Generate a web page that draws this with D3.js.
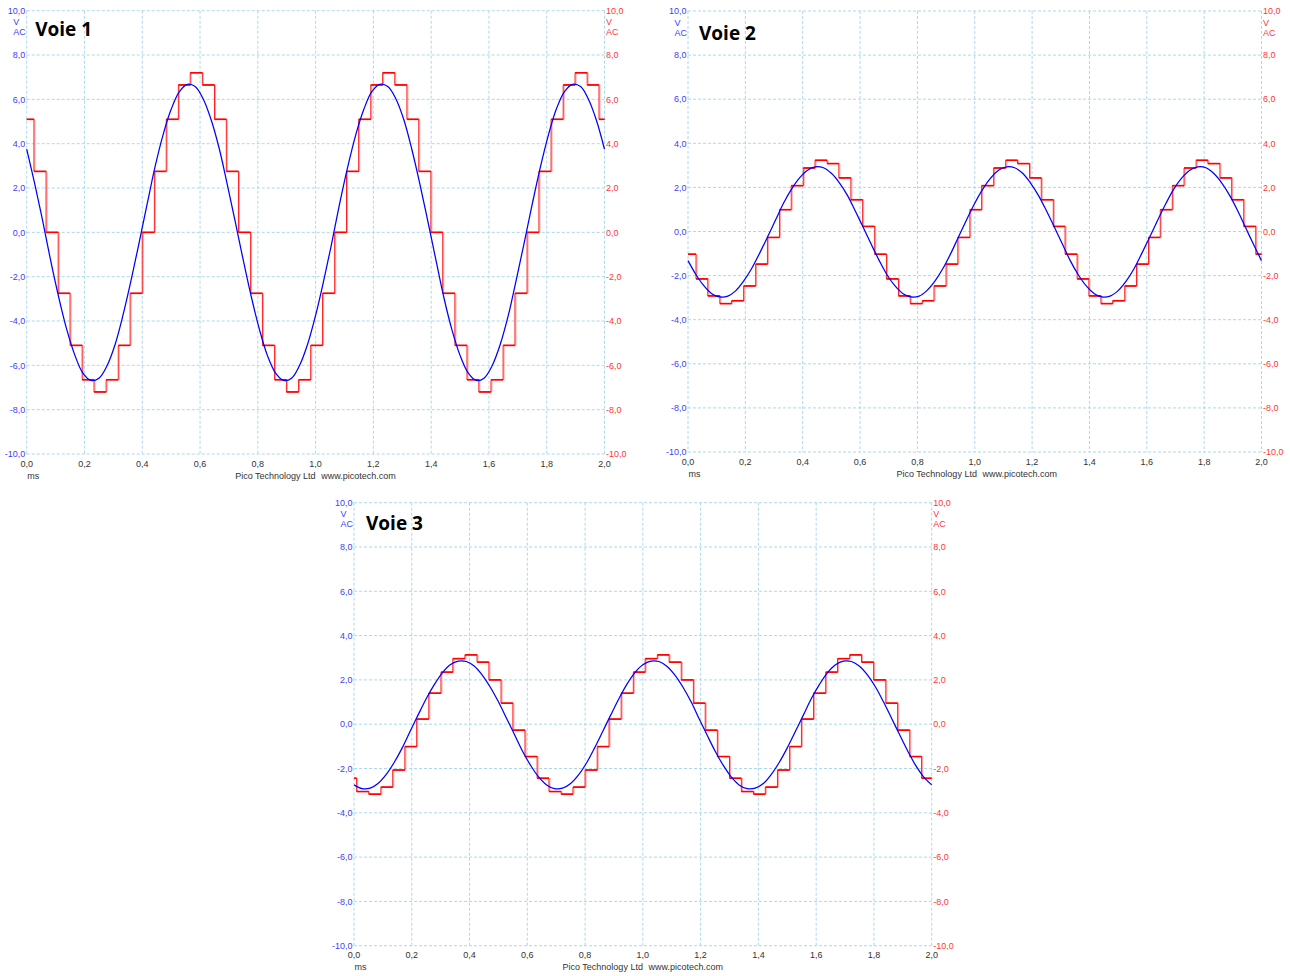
<!DOCTYPE html>
<html><head><meta charset="utf-8">
<script src="https://cdn.jsdelivr.net/npm/d3@7"></script>
<style>body{margin:0;background:#fff}svg{display:block}</style>
</head><body><svg id="c" width="1290" height="976"></svg>
<script>
// ---- data ----
const titles = ["Voie 1", "Voie 2", "Voie 3"];
const xTicks = [0, 0.2, 0.4, 0.6, 0.8, 1.0, 1.2, 1.4, 1.6, 1.8, 2.0];
const xTickLabels = ["0,0","0,2","0,4","0,6","0,8","1,0","1,2","1,4","1,6","1,8","2,0"];
const yTicks = [10, 8, 6, 4, 2, 0, -2, -4, -6, -8, -10];
const yTickLabels = ["10,0","8,0","6,0","4,0","2,0","0,0","-2,0","-4,0","-6,0","-8,0","-10,0"];
const xUnit = "ms";
const yUnit = ["V", "AC"];
const credit = ["Pico Technology Ltd", "www.picotech.com"];

// blue trace (filtered signal), time in ms
const blueTime = [0,0.028,0.056,0.083,0.111,0.139,0.167,0.194,0.222,0.25,0.278,0.306,0.333,0.361,0.389,0.417,0.444,0.472,0.5,0.528,0.556,0.583,0.611,0.639,0.667,0.694,0.722,0.75,0.778,0.806,0.833,0.861,0.889,0.917,0.944,0.972,1.0,1.028,1.056,1.083,1.111,1.139,1.167,1.194,1.222,1.25,1.278,1.306,1.333,1.361,1.389,1.417,1.444,1.472,1.5,1.528,1.556,1.583,1.611,1.639,1.667,1.694,1.722,1.75,1.778,1.806,1.833,1.861,1.889,1.917,1.944,1.972,2.0];
const blue1 = [3.75,2.18,0.47,-1.28,-2.94,-4.40,-5.55,-6.34,-6.68,-6.58,-6.02,-5.06,-3.75,-2.18,-0.47,1.28,2.94,4.40,5.55,6.34,6.68,6.58,6.02,5.06,
               3.75,2.18,0.47,-1.28,-2.94,-4.40,-5.55,-6.34,-6.68,-6.58,-6.02,-5.06,-3.75,-2.18,-0.47,1.28,2.94,4.40,5.55,6.34,6.68,6.58,6.02,5.06,
               3.75,2.18,0.47,-1.28,-2.94,-4.40,-5.55,-6.34,-6.68,-6.58,-6.02,-5.06,-3.75,-2.18,-0.47,1.28,2.94,4.40,5.55,6.34,6.68,6.58,6.02,5.06,3.75];
const blue2 = [-1.32,-1.96,-2.47,-2.82,-2.97,-2.93,-2.68,-2.25,-1.68,-0.98,-0.23,0.54,1.28,1.92,2.43,2.78,2.93,2.89,2.64,2.21,1.64,0.94,0.19,-0.58,
               -1.32,-1.96,-2.47,-2.82,-2.97,-2.93,-2.68,-2.25,-1.68,-0.98,-0.23,0.54,1.28,1.92,2.43,2.78,2.93,2.89,2.64,2.21,1.64,0.94,0.19,-0.58,
               -1.32,-1.96,-2.47,-2.82,-2.97,-2.93,-2.68,-2.25,-1.68,-0.98,-0.23,0.54,1.28,1.92,2.43,2.78,2.93,2.89,2.64,2.21,1.64,0.94,0.19,-0.58,-1.32];
const blue3 = [-2.74,-2.91,-2.89,-2.68,-2.28,-1.73,-1.07,-0.33,0.42,1.15,1.79,2.32,2.68,2.85,2.83,2.62,2.22,1.67,1.01,0.27,-0.48,-1.21,-1.85,-2.38,
               -2.74,-2.91,-2.89,-2.68,-2.28,-1.73,-1.07,-0.33,0.42,1.15,1.79,2.32,2.68,2.85,2.83,2.62,2.22,1.67,1.01,0.27,-0.48,-1.21,-1.85,-2.38,
               -2.74,-2.91,-2.89,-2.68,-2.28,-1.73,-1.07,-0.33,0.42,1.15,1.79,2.32,2.68,2.85,2.83,2.62,2.22,1.67,1.01,0.27,-0.48,-1.21,-1.85,-2.38,-2.74];

// red trace (staircase): step start times (ms) and held levels (V)
const redTime1 = [0,0.025,0.067,0.109,0.150,0.192,0.233,0.275,0.317,0.358,0.400,0.442,0.483,0.525,0.566,0.608,0.650,0.691,0.733,0.775,0.816,0.858,0.899,0.941,0.983,1.024,1.066,1.107,1.149,1.191,1.232,1.274,1.316,1.357,1.399,1.440,1.482,1.524,1.565,1.607,1.649,1.690,1.732,1.773,1.815,1.857,1.898,1.940,1.981];
const red1 = [5.1,2.75,0,-2.75,-5.1,-6.65,-7.2,-6.65,-5.1,-2.75,0,2.75,5.1,6.65,7.2,6.65,
              5.1,2.75,0,-2.75,-5.1,-6.65,-7.2,-6.65,-5.1,-2.75,0,2.75,5.1,6.65,7.2,6.65,
              5.1,2.75,0,-2.75,-5.1,-6.65,-7.2,-6.65,-5.1,-2.75,0,2.75,5.1,6.65,7.2,6.65,5.1];
const redTime2 = [0,0.028,0.069,0.111,0.152,0.194,0.236,0.277,0.319,0.360,0.402,0.443,0.485,0.526,0.568,0.609,0.651,0.692,0.734,0.775,0.817,0.858,0.900,0.941,0.983,1.024,1.066,1.108,1.149,1.191,1.232,1.274,1.315,1.357,1.398,1.440,1.481,1.523,1.564,1.606,1.647,1.689,1.730,1.772,1.813,1.855,1.896,1.938,1.980];
const red2 = [-1.03,-2.15,-2.92,-3.27,-3.14,-2.47,-1.48,-0.27,0.99,2.08,2.88,3.23,3.08,2.43,1.44,0.23,
              -1.03,-2.15,-2.92,-3.27,-3.14,-2.47,-1.48,-0.27,0.99,2.08,2.88,3.23,3.08,2.43,1.44,0.23,
              -1.03,-2.15,-2.92,-3.27,-3.14,-2.47,-1.48,-0.27,0.99,2.08,2.88,3.23,3.08,2.43,1.44,0.23,-1.03];
const redTime3 = [0,0.009,0.051,0.093,0.134,0.176,0.217,0.259,0.301,0.342,0.384,0.426,0.467,0.509,0.550,0.592,0.634,0.675,0.717,0.758,0.800,0.842,0.883,0.925,0.967,1.008,1.050,1.091,1.133,1.175,1.216,1.258,1.300,1.341,1.383,1.424,1.466,1.508,1.549,1.591,1.633,1.674,1.716,1.757,1.799,1.841,1.882,1.924,1.965];
const red3 = [-2.44,-3.04,-3.16,-2.84,-2.07,-1.01,0.23,1.40,2.35,2.96,3.13,2.80,2.00,0.95,-0.27,-1.46,
              -2.44,-3.04,-3.16,-2.84,-2.07,-1.01,0.23,1.40,2.35,2.96,3.13,2.80,2.00,0.95,-0.27,-1.46,
              -2.44,-3.04,-3.16,-2.84,-2.07,-1.01,0.23,1.40,2.35,2.96,3.13,2.80,2.00,0.95,-0.27,-1.46,-2.44];

// ---- layout ----
const panels = [
  {title: titles[0], blue: blue1, redT: redTime1, red: red1, x0: 26.7, x1: 604.5, y0: 10.7, y1: 454, tx: 8.5, ty: 25.5},
  {title: titles[1], blue: blue2, redT: redTime2, red: red2, x0: 688, x1: 1261.5, y0: 11, y1: 452, tx: 11, ty: 28.5},
  {title: titles[2], blue: blue3, redT: redTime3, red: red3, x0: 354, x1: 931.7, y0: 502.7, y1: 945.7, tx: 12, ty: 27.5}
];

const svg = d3.select("#c");
svg.append("rect").attr("width", 1290).attr("height", 976).attr("fill", "#fff");
const SMALL = "'Liberation Sans', Arial, sans-serif";
const BLUE_TXT = "#3d3dff", RED_TXT = "#ff3535", GRID = "#acd9ea";

panels.forEach(p => {
  const x = d3.scaleLinear().domain([0, 2]).range([p.x0, p.x1]);
  const y = d3.scaleLinear().domain([-10, 10]).range([p.y1, p.y0]);
  const g = svg.append("g");

  // grid
  g.selectAll(".vg").data(xTicks).join("line")
    .attr("x1", d => x(d)).attr("x2", d => x(d)).attr("y1", p.y0).attr("y2", p.y1)
    .attr("stroke", GRID).attr("stroke-width", 1).attr("stroke-dasharray", "3,2");
  g.selectAll(".hg").data(yTicks).join("line")
    .attr("x1", p.x0).attr("x2", p.x1).attr("y1", d => y(d)).attr("y2", d => y(d))
    .attr("stroke", GRID).attr("stroke-width", 1).attr("stroke-dasharray", "3,2");

  // left axis labels (blue)
  g.selectAll(".yl").data(yTicks).join("text")
    .attr("x", p.x0 - 1.5).attr("y", d => y(d) + 3.2)
    .attr("text-anchor", "end").attr("font-family", SMALL).attr("font-size", 9)
    .attr("fill", BLUE_TXT).text((d, i) => yTickLabels[i]);
  // right axis labels (red)
  g.selectAll(".yr").data(yTicks).join("text")
    .attr("x", p.x1 + 1.5).attr("y", d => y(d) + 3.2)
    .attr("text-anchor", "start").attr("font-family", SMALL).attr("font-size", 9)
    .attr("fill", RED_TXT).text((d, i) => yTickLabels[i]);
  yUnit.forEach((u, i) => {
    g.append("text").attr("x", p.x0 - 13.5).attr("y", y(10) + 14.5 + i * 10)
      .attr("font-family", SMALL).attr("font-size", 9).attr("fill", BLUE_TXT).text(u);
    g.append("text").attr("x", p.x1 + 1.5).attr("y", y(10) + 14.5 + i * 10)
      .attr("font-family", SMALL).attr("font-size", 9).attr("fill", RED_TXT).text(u);
  });

  // x axis labels
  g.selectAll(".xl").data(xTicks).join("text")
    .attr("x", d => x(d)).attr("y", p.y1 + 12.5)
    .attr("text-anchor", "middle").attr("font-family", SMALL).attr("font-size", 9)
    .attr("fill", "#333").text((d, i) => xTickLabels[i]);
  g.append("text").attr("x", p.x0 + 0.5).attr("y", p.y1 + 24.5)
    .attr("font-family", SMALL).attr("font-size", 9).attr("fill", "#333").text(xUnit);
  g.append("text").attr("x", p.x0 + 208.5).attr("y", p.y1 + 24.5)
    .attr("font-family", SMALL).attr("font-size", 9).attr("fill", "#333").text(credit[0]);
  g.append("text").attr("x", p.x0 + 294.5).attr("y", p.y1 + 24.5)
    .attr("font-family", SMALL).attr("font-size", 9).attr("fill", "#333").text(credit[1]);

  // red staircase
  const pts = p.redT.map((t, i) => [t, p.red[i]]);
  pts.push([2, p.red[p.red.length - 1]]);
  const stepLine = d3.line().x(d => x(d[0])).y(d => y(d[1])).curve(d3.curveStepAfter);
  g.append("path").attr("d", stepLine(pts)).attr("fill", "none")
    .attr("stroke", "#ffa0a0").attr("stroke-width", 1).attr("transform", "translate(1,0)");
  g.append("path").attr("d", stepLine(pts)).attr("fill", "none")
    .attr("stroke", "#ff2020").attr("stroke-width", 1);
  g.selectAll(".hs").data(p.redT).join("line")
    .attr("x1", (t) => x(t))
    .attr("x2", (t, i) => x(i + 1 < p.redT.length ? p.redT[i + 1] : 2))
    .attr("y1", (t, i) => y(p.red[i])).attr("y2", (t, i) => y(p.red[i]))
    .attr("stroke", "#ff0000").attr("stroke-width", 1.6);

  // blue trace
  const bl = d3.line().x((d, i) => x(blueTime[i])).y(d => y(d)).curve(d3.curveCatmullRom);
  g.append("path").attr("d", bl(p.blue)).attr("fill", "none")
    .attr("stroke", "#0000ff").attr("stroke-width", 1.25);

  // title
  g.append("text").attr("x", p.x0 + p.tx).attr("y", p.y0 + p.ty)
    .attr("font-family", "'Open Sans', 'Noto Sans', sans-serif").attr("font-weight", "bold")
    .attr("font-size", 19).attr("fill", "#000").text(p.title);
});
</script></body></html>
